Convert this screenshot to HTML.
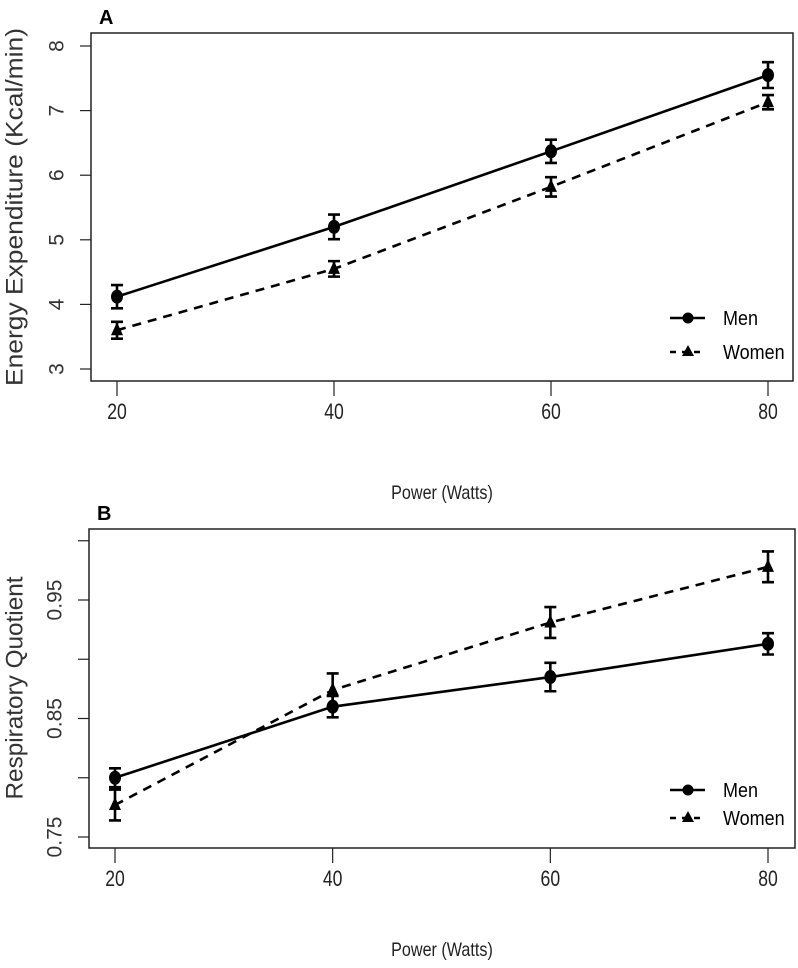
<!DOCTYPE html>
<html><head><meta charset="utf-8"><style>
body{margin:0;background:#fff;}
svg{display:block;font-family:"Liberation Sans",sans-serif;}
</style></head><body>
<svg id="c" width="798" height="968"></svg>
<script>
const xCats=[20,40,60,80];
const aMen=[4.12,5.2,6.37,7.55];
const aMenErr=[0.18,0.19,0.18,0.2];
const aWomen=[3.6,4.55,5.82,7.13];
const aWomenErr=[0.13,0.12,0.15,0.11];
const aTicks=[3,4,5,6,7,8];
const bMen=[0.800,0.860,0.885,0.913];
const bMenErr=[0.008,0.009,0.012,0.009];
const bWomen=[0.777,0.874,0.931,0.978];
const bWomenErr=[0.013,0.014,0.013,0.013];
const bTicks=[0.75,0.80,0.85,0.90,0.95,1.00];
const bTickLabels=["0.75","","0.85","","0.95",""];
const NS="http://www.w3.org/2000/svg";
const svg=document.getElementById('c');
function el(t,a,p){const e=document.createElementNS(NS,t);for(const k in a)e.setAttribute(k,a[k]);(p||svg).appendChild(e);return e;}
function panel(cfg){
  const g=el('g',{});
  
  
  const xs=v=>cfg.x0+(v-20)/60*(cfg.x1-cfg.x0);
  const ys=v=>cfg.y0-(v-cfg.v0)/(cfg.v1-cfg.v0)*(cfg.y0-cfg.y1);
  const box=el('rect',{x:cfg.L,y:cfg.T,width:cfg.R-cfg.L,height:cfg.B-cfg.T,fill:'none',stroke:'#222','stroke-width':1.5},g);
  
  
  const pl=el('text',{x:cfg.L+8,y:cfg.T-9,'font-size':20,'font-weight':'bold'},g);pl.textContent=cfg.letter;
  
  
  cfg.ticks.forEach((t,i)=>{
    const y=ys(t);
    el('line',{x1:cfg.L-11,x2:cfg.L,y1:y,y2:y,stroke:'#222','stroke-width':1.2},g);
    const lab=cfg.tickLabels?cfg.tickLabels[i]:String(t);
    if(lab){const tx=el('text',{x:0,y:0,'font-size':21,fill:'#333','text-anchor':'middle',transform:`translate(${cfg.L-34},${y}) rotate(-90)`,'dominant-baseline':'central'},g);tx.textContent=lab;
      
      }
  });
  xCats.forEach(c=>{
    const x=xs(c);
    el('line',{x1:x,x2:x,y1:cfg.B,y2:cfg.B+15,stroke:'#222','stroke-width':1.2},g);
    const tx=el('text',{x:x/0.8,y:cfg.B+38,'font-size':22,'text-anchor':'middle',fill:'#222',transform:'scale(0.8,1)'},g);
    tx.textContent=c;
    
    
  });
  const xt=el('text',{x:442/0.85,y:cfg.xTitleY,'font-size':19,'text-anchor':'middle',fill:'#222',transform:'scale(0.85,1)'},g);xt.textContent='Power (Watts)';
  
  
  const yt=el('text',{x:0,y:0,'font-size':24,'text-anchor':'middle',fill:'#333',textLength:cfg.yTitleLen,lengthAdjust:'spacingAndGlyphs',transform:`translate(15,${cfg.yTitleY}) rotate(-90)`,'dominant-baseline':'central'},g);yt.textContent=cfg.yTitle;
  
  
  function series(vals,errs,dash,marker,name){
    const sg=el('g',{},g);
    
    
    el('polyline',{points:vals.map((v,i)=>xs(xCats[i])+','+ys(v)).join(' '),fill:'none',stroke:'#000','stroke-width':2.6,'stroke-dasharray':dash},sg);
    vals.forEach((v,i)=>{
      const x=xs(xCats[i]),a=ys(v+errs[i]),b=ys(v-errs[i]);
      const eb=el('path',{d:`M${x},${a}V${b}M${x-6},${a}H${x+6}M${x-6},${b}H${x+6}`,stroke:'#000','stroke-width':2.6,fill:'none'},sg);
      
      
      let m;
      if(marker==='c')m=el('ellipse',{cx:x,cy:ys(v),rx:6,ry:7,fill:'#000'},sg);
      else m=el('polygon',{points:`${x},${ys(v)-8} ${x-6},${ys(v)+5} ${x+6},${ys(v)+5}`,fill:'#000'},sg);
      
      
    });
  }
  series(cfg.men,cfg.menErr,'none','c','men-series');
  series(cfg.women,cfg.womenErr,'9,7','t','women-series');
  const lg=el('g',{},g);
  
  
  const ly1=cfg.legY,ly2=cfg.legY+cfg.legGap;
  el('line',{x1:670,x2:705,y1:ly1,y2:ly1,stroke:'#000','stroke-width':2.6},lg);
  el('circle',{cx:688,cy:ly1,r:5.5,fill:'#000'},lg);
  el('line',{x1:670,x2:705,y1:ly2,y2:ly2,stroke:'#000','stroke-width':2.6,'stroke-dasharray':'6,6'},lg);
  el('polygon',{points:`688,${ly2-7} 682,${ly2+4} 694,${ly2+4}`,fill:'#000'},lg);
  const t1=el('text',{x:723/0.9,y:ly1+7,'font-size':20,transform:'scale(0.9,1)'},lg);t1.textContent='Men';
  
  
  const t2=el('text',{x:723/0.9,y:ly2+7,'font-size':20,transform:'scale(0.9,1)'},lg);t2.textContent='Women';
  
  
}
panel({name:'panel-a',letter:'A',L:91,T:33,R:793,B:381,x0:117,x1:768,v0:3,v1:8,y0:369,y1:46,ticks:aTicks,
  men:aMen,menErr:aMenErr,women:aWomen,womenErr:aWomenErr,xTitleY:499,yTitle:'Energy Expenditure (Kcal/min)',yTitleY:207,yTitleLen:358,legY:318,legGap:34});
panel({name:'panel-b',letter:'B',L:89,T:529,R:795,B:848,x0:115,x1:768,v0:0.75,v1:0.95,y0:837,y1:600,ticks:bTicks,tickLabels:bTickLabels,
  men:bMen,menErr:bMenErr,women:bWomen,womenErr:bWomenErr,xTitleY:956,yTitle:'Respiratory Quotient',yTitleY:688,yTitleLen:223,legY:790,legGap:28});
</script>
</body></html>
